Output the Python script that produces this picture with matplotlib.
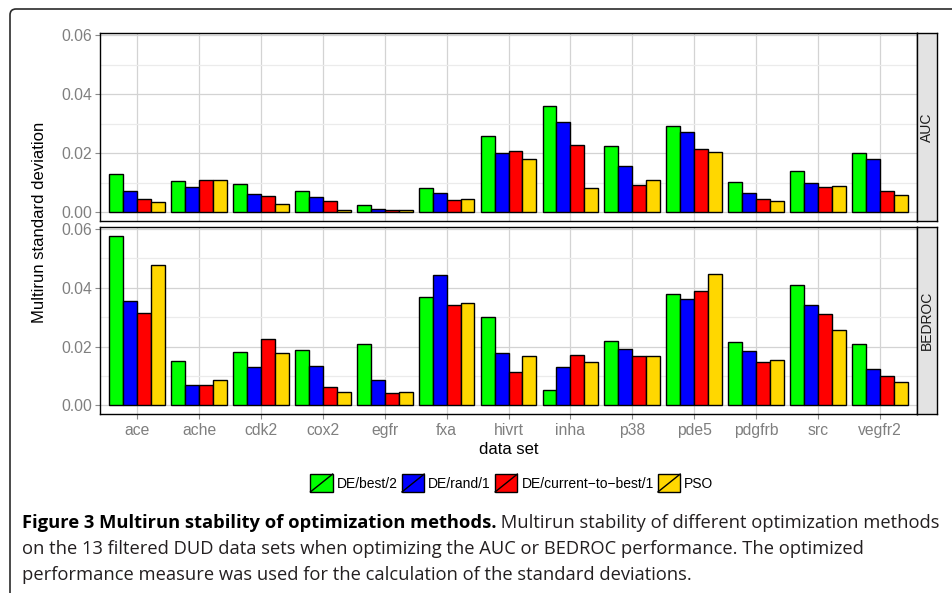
# -*- coding: utf-8 -*-
import matplotlib
matplotlib.use("Agg")
import matplotlib.pyplot as plt
from matplotlib.patches import Rectangle, FancyBboxPatch
from matplotlib.lines import Line2D
from matplotlib.legend_handler import HandlerPatch
from matplotlib.transforms import IdentityTransform
import numpy as np

datasets = ["ace", "ache", "cdk2", "cox2", "egfr", "fxa", "hivrt", "inha",
            "p38", "pde5", "pdgfrb", "src", "vegfr2"]
methods = ["DE/best/2", "DE/rand/1", "DE/current\u2212to\u2212best/1", "PSO"]
colors = ["#00ff00", "#0000ff", "#ff0000", "#ffd700"]

# multirun standard deviation, AUC optimisation
auc_best2 = [0.0129, 0.0107, 0.0096, 0.0071, 0.0026, 0.0082, 0.0260, 0.0360, 0.0224, 0.0293, 0.0102, 0.0140, 0.0200]
auc_rand1 = [0.0074, 0.0087, 0.0064, 0.0051, 0.0011, 0.0066, 0.0202, 0.0306, 0.0158, 0.0273, 0.0065, 0.0101, 0.0180]
auc_ctb1 = [0.0047, 0.0109, 0.0054, 0.0037, 0.0007, 0.0042, 0.0208, 0.0229, 0.0092, 0.0215, 0.0045, 0.0085, 0.0073]
auc_pso = [0.0035, 0.0111, 0.0027, 0.0009, 0.0009, 0.0045, 0.0182, 0.0081, 0.0111, 0.0204, 0.0040, 0.0090, 0.0060]

# multirun standard deviation, BEDROC optimisation
bedroc_best2 = [0.0578, 0.0152, 0.0182, 0.0187, 0.0209, 0.0368, 0.0302, 0.0052, 0.0218, 0.0379, 0.0215, 0.0409, 0.0210]
bedroc_rand1 = [0.0354, 0.0068, 0.0131, 0.0133, 0.0087, 0.0443, 0.0180, 0.0132, 0.0192, 0.0361, 0.0184, 0.0342, 0.0124]
bedroc_ctb1 = [0.0313, 0.0069, 0.0225, 0.0063, 0.0044, 0.0342, 0.0114, 0.0171, 0.0168, 0.0391, 0.0147, 0.0310, 0.0101]
bedroc_pso = [0.0478, 0.0087, 0.0178, 0.0045, 0.0046, 0.0347, 0.0169, 0.0147, 0.0167, 0.0448, 0.0153, 0.0255, 0.0081]

panels = [("AUC", [auc_best2, auc_rand1, auc_ctb1, auc_pso]),
          ("BEDROC", [bedroc_best2, bedroc_rand1, bedroc_ctb1, bedroc_pso])]

caption_bold = "Figure 3 Multirun stability of optimization methods."
caption_lines = [" Multirun stability of different optimization methods",
                 "on the 13 filtered DUD data sets when optimizing the AUC or BEDROC performance. The optimized",
                 "performance measure was used for the calculation of the standard deviations."]

W, H = 953, 593
plt.rcParams["font.family"] = ["Liberation Sans", "DejaVu Sans"]


def fx(px):
    return px / W


def fy(py):
    return 1 - py / H


class SlashHandler(HandlerPatch):
    # ggplot style legend key: filled box with a diagonal stroke
    def create_artists(self, legend, orig_handle, xdescent, ydescent,
                       width, height, fontsize, trans):
        box = Rectangle((-xdescent, -ydescent), width, height,
                        facecolor=orig_handle.get_facecolor(),
                        edgecolor="black", lw=1.0, transform=trans)
        slash = Line2D([-xdescent, -xdescent + width],
                       [-ydescent, -ydescent + height],
                       color="black", lw=1.0, transform=trans)
        return [box, slash]


def main():
    fig = plt.figure(figsize=(W / 100, H / 100), dpi=100)

    x = np.arange(len(datasets))
    bw = 0.225
    offsets = (np.arange(4) - 1.5) * bw

    rows = [(33, 221), (227, 414)]
    axes = []
    for (name, series), (top, bot) in zip(panels, rows):
        ax = fig.add_axes([fx(100), fy(bot), fx(917) - fx(100), (bot - top) / H])
        for vals, off, col in zip(series, offsets, colors):
            ax.bar(x + off, vals, width=bw, color=col, edgecolor="black",
                   linewidth=1.0, zorder=3)
        ax.set_xlim(-0.6, len(datasets) - 0.4)
        ax.set_ylim(-0.0029, 0.0607)
        ax.set_yticks([0, 0.02, 0.04, 0.06])
        ax.set_yticklabels(["0.00", "0.02", "0.04", "0.06"])
        ax.set_yticks([0.01, 0.03, 0.05], minor=True)
        ax.set_xticks(x)
        ax.grid(which="major", color="#d3d3d3", lw=0.9, zorder=0)
        ax.grid(which="minor", axis="y", color="#ebebeb", lw=0.9, zorder=0)
        ax.set_axisbelow(True)
        ax.tick_params(which="major", length=3.5, width=0.8, color="#8a8a8a",
                       labelcolor="#7f7f7f", labelsize=11.3, pad=2)
        ax.tick_params(which="minor", length=0)
        for s in ax.spines.values():
            s.set_color("black")
            s.set_linewidth(1.0)

        # facet strip on the right
        st = fig.add_axes([fx(917), fy(bot), fx(937) - fx(917), (bot - top) / H])
        st.set_facecolor("#e3e3e3")
        st.set_xticks([])
        st.set_yticks([])
        for s in st.spines.values():
            s.set_color("black")
            s.set_linewidth(1.0)
        st.text(0.5, 0.5, name, rotation=90, ha="center", va="center",
                fontsize=10, color="#1a1a1a", transform=st.transAxes)
        axes.append(ax)

    axes[0].tick_params(axis="x", length=0, labelbottom=False)
    axes[1].set_xticklabels(datasets)
    axes[1].tick_params(axis="x", pad=3)

    fig.text(fx(40), fy(222), "Multirun standard deviation", rotation=90,
             ha="center", va="center", fontsize=12, color="black")
    fig.text(fx(509), fy(450), "data set", ha="center", va="center",
             fontsize=12, color="black")

    handles = [Rectangle((0, 0), 1, 1, facecolor=c) for c in colors]
    fig.legend(handles, methods, loc="center", bbox_to_anchor=(fx(512), fy(483)),
               ncol=4, frameon=False, fontsize=10, handlelength=1.6,
               handleheight=1.6, handletextpad=0.3, columnspacing=0.3,
               borderpad=0, handler_map={Rectangle: SlashHandler()})

    # outer frame with rounded corner
    frame = FancyBboxPatch((10, -40), 1000, H - 9 + 40,
                           boxstyle="round,pad=0,rounding_size=6",
                           transform=IdentityTransform(), facecolor="none",
                           edgecolor="#2b2b2b", lw=1.2)
    fig.add_artist(frame)

    # caption, sized so the first line spans the frame
    renderer = fig.canvas.get_renderer()
    cap_font = ["Open Sans", "DejaVu Sans"]
    probe_b = fig.text(0, 0, caption_bold, fontsize=12, fontweight="bold", family=cap_font)
    probe_r = fig.text(0, 0, caption_lines[0], fontsize=12, family=cap_font)
    w12 = probe_b.get_window_extent(renderer).width + probe_r.get_window_extent(renderer).width
    probe_b.remove()
    probe_r.remove()
    size = 12 * 917 / w12

    tb = fig.text(fx(22), fy(528), caption_bold, fontsize=size, fontweight="bold",
                  family=cap_font, color="black", va="baseline")
    bw_px = tb.get_window_extent(renderer).width
    fig.text(fx(22 + bw_px), fy(528), caption_lines[0], fontsize=size,
             family=cap_font, color="#231f20", va="baseline")
    fig.text(fx(22), fy(554), caption_lines[1], fontsize=size,
             family=cap_font, color="#231f20", va="baseline")
    fig.text(fx(22), fy(580), caption_lines[2], fontsize=size,
             family=cap_font, color="#231f20", va="baseline")

    fig.savefig("out.png", dpi=100)


if __name__ == '__main__':
    main()
